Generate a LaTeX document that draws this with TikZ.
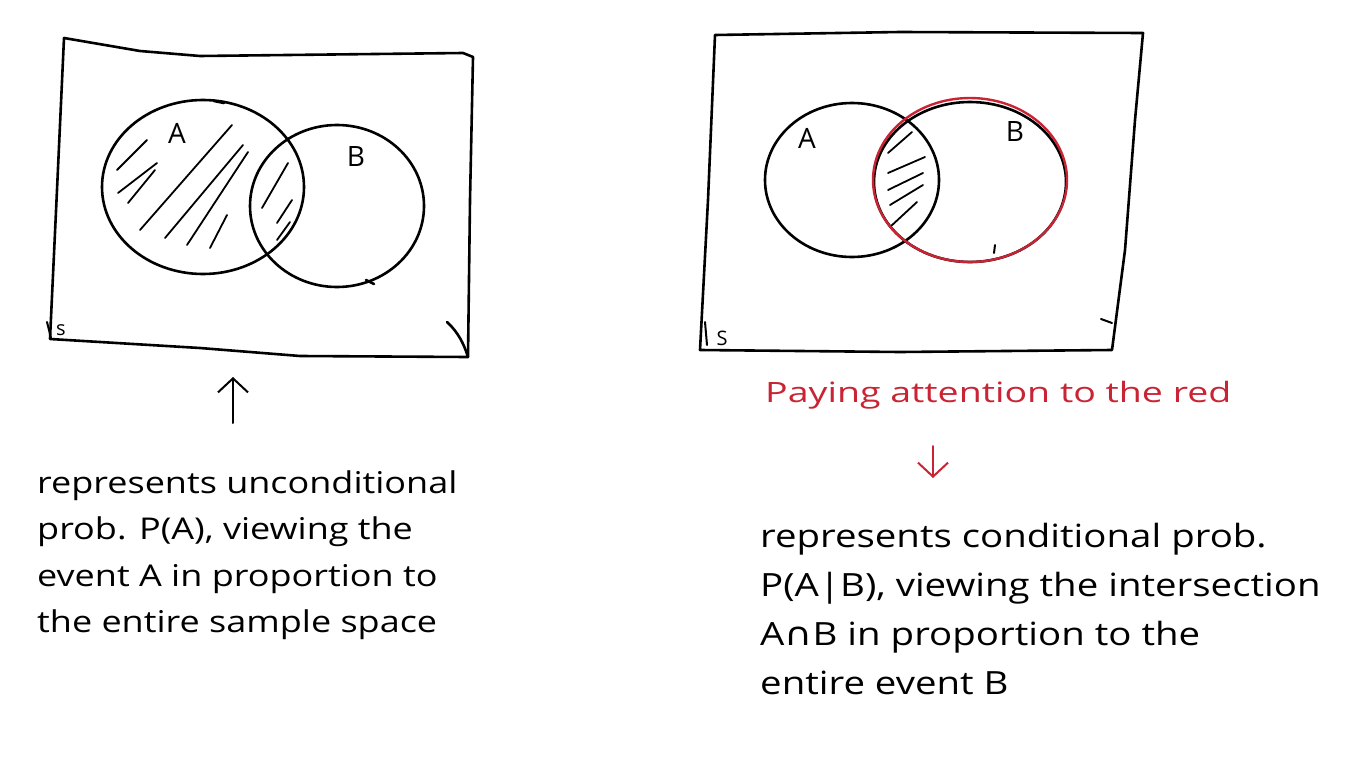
\documentclass[tikz,border=0pt]{standalone}
\usepackage{fontspec}
\setmainfont{Open Sans}
\newfontfamily\handfont[FakeStretch=1.2]{Open Sans}
\newfontfamily\redfont[FakeStretch=1.34]{Open Sans}
\newfontfamily\symfont[FakeStretch=1.2]{DejaVu Sans}
\usetikzlibrary{arrows.meta}
\definecolor{hred}{RGB}{200,36,52}
\begin{document}
\begin{tikzpicture}[x=1pt,y=-1pt, line cap=round, line join=round,
  pen/.style={draw=black, line width=2.6pt},
  redpen/.style={draw=hred, line width=2.4pt},
  hatch/.style={draw=black, line width=1.8pt},
  ltxt/.style={font=\handfont\fontsize{30}{46.5}\selectfont, anchor=north west, align=left, inner sep=0pt},
  rtxt/.style={font=\handfont\fontsize{32}{49}\selectfont, anchor=north west, align=left, inner sep=0pt},
  redtxt/.style={font=\redfont\fontsize{28}{28}\selectfont, text=hred, anchor=west, inner sep=0pt},
  lbl/.style={font=\fontsize{28}{28}\selectfont, inner sep=0pt},
  slbl/.style={font=\fontsize{20}{20}\selectfont, inner sep=0pt},
  arr/.style={line width=2pt, -{Straight Barb[length=14pt, width=30pt, line width=2pt]}}]
\useasboundingbox (0,0) rectangle (1364,760);

% ---------- left panel ----------
\draw[pen] (64,38) -- (140,51) -- (200,56) -- (463,53) -- (473,57)
  -- (470,200) -- (468,357) -- (300,356) -- (200,348) -- (50,339) -- (57,190) -- cycle;
\draw[pen] (447,322) .. controls (458,332) and (464,344) .. (468,357);
\begin{scope}
  \clip (203,187) ellipse [x radius=101, y radius=87];
  \draw[hatch] (140,230) -- (232,125);
  \draw[hatch] (165,238) -- (243,145);
  \draw[hatch] (187,245) -- (248,152);
  \draw[hatch] (210,248) -- (227,215);
  \draw[hatch] (117,170) -- (147,140);
  \draw[hatch] (118,193) -- (157,163);
  \draw[hatch] (128,203) -- (155,170);
  \draw[hatch] (262,208) -- (288,163);
  \draw[hatch] (277,223) -- (292,200);
  \draw[hatch] (277,240) -- (290,222);
\end{scope}
\draw[pen] (203,187) ellipse [x radius=101, y radius=87];
\draw[pen] (337,206) ellipse [x radius=87, y radius=81];
\draw[pen] (214,101) -- (224,103);
\draw[pen] (366,280) -- (374,284);
\node[lbl] (la) at (177,133) {A};
\node[lbl] (lb) at (356,157) {B};
\node[slbl] (ls) at (61,330) {s};
\draw[pen, line width=2pt] (47,322) -- (51,338);

\node[ltxt] (ltext) at (37,470) {represents unconditional\\prob. P(A), viewing the\\event A in proportion to\\the entire sample space};
\coordinate (lup) at (233,377);
\draw[arr] (233,423) -- (lup);

% ---------- right panel ----------
\draw[pen] (715,35) -- (900,32) -- (1143,33) -- (1135,120) -- (1125,250) -- (1112,350)
  -- (900,352) -- (700,350) -- (708,200) -- cycle;
\draw[pen, line width=2pt] (1101,319) -- (1112,323);
\begin{scope}
  \clip (852,180) ellipse [x radius=87, y radius=77];
  \draw[hatch] (888,153) -- (912,132);
  \draw[hatch] (888,173) -- (925,157);
  \draw[hatch] (888,190) -- (923,173);
  \draw[hatch] (890,205) -- (923,185);
  \draw[hatch] (890,227) -- (917,202);
\end{scope}
\draw[pen] (852,180) ellipse [x radius=87, y radius=77];
\draw[pen] (970,182) ellipse [x radius=96, y radius=80];
\draw[redpen] (970,180) ellipse [x radius=97, y radius=82];
\draw[pen, line width=2pt] (995,245) -- (994,253);
\node[lbl] (ra) at (807,138) {A};
\node[lbl] (rb) at (1015,132) {B};
\node[slbl] (rs) at (722,338) {S};
\draw[pen, line width=2pt] (705,322) -- (707,345);

\node[redtxt] (redt) at (765,395) {Paying attention to the red};
\coordinate (rdown) at (933,478);
\draw[arr, draw=hred] (933,446) -- (rdown);

\node[rtxt] (rtext) at (760,523) {represents conditional prob.\\P(A|B), viewing the intersection\\A{\symfont ∩}B in proportion to the\\entire event B};
\end{tikzpicture}
\end{document}
